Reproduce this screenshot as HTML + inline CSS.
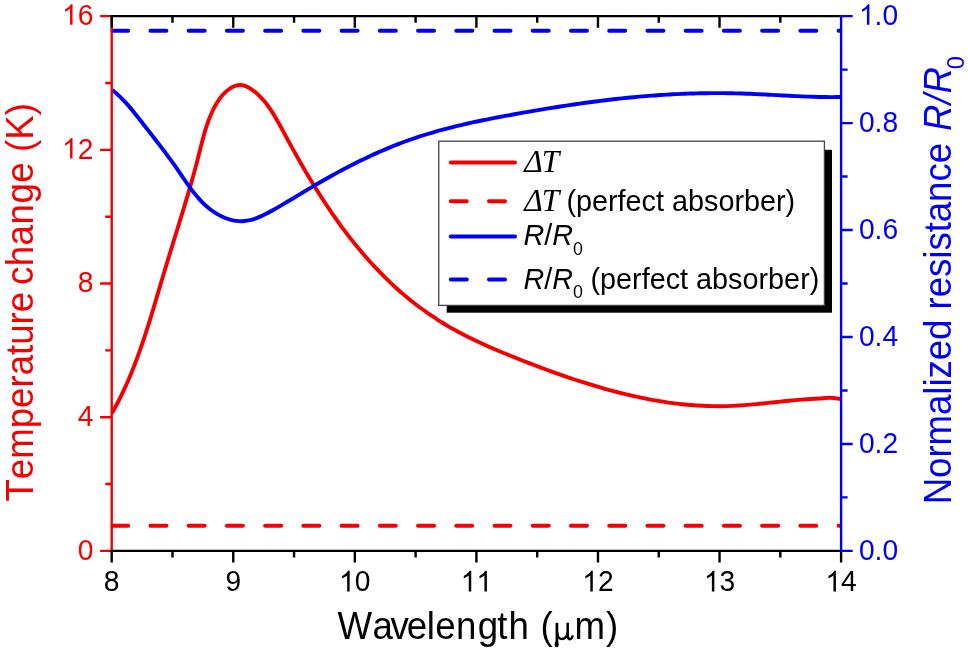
<!DOCTYPE html>
<html><head><meta charset="utf-8"><title>Chart</title>
<style>html,body{margin:0;padding:0;background:#fff;}svg{display:block;will-change:transform;}text{font-family:"Liberation Sans",sans-serif;font-kerning:none;}.ser{font-family:"Liberation Serif",serif;}</style></head><body>
<svg width="968" height="652" viewBox="0 0 968 652">
<rect width="968" height="652" fill="#fff"/>
<clipPath id="cp"><rect x="110.50" y="16.15" width="730.60" height="534.75"/></clipPath>
<g clip-path="url(#cp)" fill="none" stroke-linejoin="round">
<path d="M111.87,413.35 C112.36,412.46 113.85,409.81 114.82,408.03 C115.78,406.24 116.73,404.46 117.65,402.66 C118.58,400.87 119.49,399.07 120.38,397.27 C121.27,395.47 122.15,393.66 123.01,391.85 C123.86,390.03 124.71,388.21 125.53,386.39 C126.36,384.57 127.17,382.74 127.97,380.91 C128.77,379.07 129.55,377.24 130.32,375.39 C131.09,373.55 131.84,371.71 132.58,369.86 C133.33,368.01 134.06,366.15 134.77,364.29 C135.49,362.43 136.20,360.57 136.89,358.71 C137.59,356.84 138.27,354.97 138.95,353.10 C139.63,351.22 140.29,349.35 140.95,347.47 C141.60,345.59 142.25,343.71 142.89,341.82 C143.53,339.93 144.16,338.05 144.78,336.15 C145.40,334.26 146.02,332.37 146.63,330.47 C147.24,328.58 147.84,326.68 148.44,324.77 C149.04,322.87 149.63,320.97 150.22,319.06 C150.81,317.16 151.39,315.25 151.97,313.34 C152.55,311.43 153.13,309.52 153.70,307.61 C154.27,305.69 154.84,303.78 155.41,301.86 C155.98,299.95 156.55,298.03 157.12,296.11 C157.68,294.19 158.25,292.27 158.81,290.35 C159.38,288.43 159.94,286.51 160.51,284.59 C161.08,282.67 161.64,280.75 162.21,278.82 C162.78,276.90 163.35,274.98 163.93,273.05 C164.50,271.13 165.08,269.21 165.66,267.28 C166.23,265.36 166.82,263.43 167.40,261.51 C167.99,259.59 168.57,257.66 169.16,255.74 C169.75,253.82 170.34,251.89 170.94,249.97 C171.53,248.05 172.12,246.12 172.72,244.20 C173.31,242.28 173.90,240.35 174.50,238.43 C175.09,236.51 175.69,234.59 176.28,232.67 C176.88,230.74 177.47,228.82 178.06,226.90 C178.66,224.98 179.25,223.06 179.84,221.14 C180.43,219.22 181.02,217.30 181.61,215.38 C182.19,213.46 182.78,211.55 183.36,209.63 C183.94,207.71 184.52,205.79 185.10,203.88 C185.67,201.96 186.24,200.04 186.81,198.13 C187.38,196.21 187.95,194.30 188.51,192.39 C189.07,190.47 189.62,188.56 190.17,186.65 C190.73,184.74 191.27,182.83 191.81,180.92 C192.35,179.01 192.89,177.10 193.42,175.19 C193.95,173.28 194.47,171.38 194.99,169.47 C195.50,167.56 196.01,165.66 196.51,163.76 C197.02,161.85 197.51,159.95 198.00,158.05 C198.49,156.15 198.96,154.25 199.44,152.35 C199.91,150.45 200.38,148.55 200.86,146.65 C201.34,144.75 201.81,142.85 202.31,140.94 C202.81,139.04 203.32,137.13 203.86,135.21 C204.40,133.30 204.95,131.38 205.55,129.45 C206.15,127.53 206.77,125.59 207.45,123.65 C208.12,121.71 208.83,119.75 209.60,117.80 C210.38,115.85 211.19,113.88 212.08,111.95 C212.97,110.03 213.91,108.11 214.93,106.25 C215.95,104.40 217.03,102.57 218.21,100.83 C219.38,99.08 220.63,97.38 221.97,95.81 C223.31,94.23 224.76,92.70 226.26,91.37 C227.75,90.04 229.34,88.80 230.95,87.84 C232.57,86.88 234.25,86.07 235.93,85.61 C237.62,85.14 239.35,84.92 241.05,85.05 C242.76,85.18 244.49,85.70 246.17,86.37 C247.84,87.04 249.52,88.05 251.12,89.09 C252.72,90.13 254.28,91.36 255.77,92.60 C257.26,93.84 258.68,95.17 260.05,96.54 C261.42,97.91 262.72,99.36 263.99,100.85 C265.26,102.33 266.47,103.88 267.65,105.47 C268.83,107.05 269.96,108.68 271.07,110.35 C272.18,112.01 273.24,113.71 274.29,115.44 C275.34,117.16 276.36,118.92 277.37,120.69 C278.38,122.45 279.36,124.25 280.35,126.04 C281.33,127.84 282.29,129.65 283.26,131.45 C284.24,133.26 285.20,135.06 286.17,136.86 C287.14,138.66 288.12,140.46 289.09,142.25 C290.07,144.04 291.05,145.83 292.03,147.61 C293.01,149.39 294.00,151.17 294.99,152.95 C295.98,154.72 296.97,156.49 297.97,158.25 C298.96,160.01 299.96,161.77 300.97,163.52 C301.97,165.27 302.98,167.02 304.00,168.76 C305.01,170.50 306.03,172.24 307.05,173.97 C308.08,175.70 309.11,177.43 310.14,179.15 C311.18,180.86 312.21,182.58 313.26,184.29 C314.31,185.99 315.36,187.70 316.41,189.39 C317.47,191.09 318.53,192.78 319.60,194.46 C320.67,196.14 321.75,197.82 322.83,199.49 C323.92,201.16 325.01,202.83 326.11,204.48 C327.20,206.14 328.31,207.79 329.42,209.43 C330.53,211.08 331.65,212.72 332.78,214.35 C333.91,215.98 335.04,217.60 336.19,219.22 C337.33,220.83 338.48,222.44 339.64,224.04 C340.80,225.64 341.97,227.24 343.15,228.83 C344.33,230.41 345.52,231.99 346.72,233.56 C347.91,235.14 349.12,236.70 350.34,238.26 C351.55,239.81 352.78,241.36 354.01,242.90 C355.25,244.44 356.50,245.97 357.75,247.50 C359.01,249.02 360.28,250.54 361.55,252.04 C362.83,253.55 364.12,255.05 365.42,256.54 C366.72,258.03 368.03,259.51 369.36,260.99 C370.68,262.46 372.01,263.93 373.36,265.38 C374.71,266.84 376.06,268.28 377.44,269.72 C378.81,271.15 380.19,272.58 381.58,273.99 C382.98,275.41 384.38,276.81 385.80,278.21 C387.22,279.60 388.66,280.99 390.10,282.36 C391.55,283.73 393.01,285.09 394.48,286.44 C395.95,287.78 397.44,289.12 398.93,290.44 C400.43,291.77 401.94,293.08 403.47,294.38 C405.00,295.67 406.54,296.96 408.09,298.23 C409.64,299.50 411.21,300.76 412.79,302.00 C414.37,303.24 415.97,304.47 417.57,305.69 C419.18,306.90 420.79,308.10 422.42,309.29 C424.05,310.47 425.69,311.64 427.34,312.79 C428.99,313.95 430.65,315.08 432.32,316.21 C433.99,317.33 435.67,318.43 437.36,319.52 C439.05,320.61 440.74,321.68 442.45,322.73 C444.15,323.79 445.86,324.82 447.58,325.84 C449.30,326.86 451.03,327.86 452.76,328.85 C454.49,329.83 456.23,330.79 457.97,331.74 C459.72,332.68 461.46,333.61 463.22,334.52 C464.97,335.44 466.73,336.33 468.50,337.21 C470.26,338.09 472.03,338.96 473.81,339.81 C475.58,340.66 477.36,341.50 479.15,342.33 C480.93,343.16 482.72,343.97 484.52,344.78 C486.31,345.58 488.11,346.38 489.92,347.16 C491.72,347.95 493.53,348.73 495.34,349.50 C497.16,350.27 498.97,351.03 500.80,351.79 C502.62,352.55 504.44,353.30 506.28,354.05 C508.11,354.79 509.94,355.54 511.78,356.28 C513.62,357.02 515.46,357.76 517.31,358.49 C519.16,359.23 521.01,359.96 522.86,360.69 C524.72,361.42 526.58,362.15 528.44,362.87 C530.30,363.59 532.17,364.31 534.04,365.02 C535.91,365.73 537.78,366.44 539.66,367.15 C541.54,367.85 543.41,368.55 545.30,369.25 C547.18,369.94 549.07,370.63 550.96,371.31 C552.85,372.00 554.74,372.68 556.63,373.35 C558.53,374.02 560.43,374.69 562.33,375.35 C564.23,376.01 566.13,376.66 568.04,377.31 C569.95,377.96 571.86,378.60 573.77,379.23 C575.68,379.87 577.59,380.49 579.51,381.11 C581.43,381.73 583.35,382.34 585.27,382.95 C587.19,383.55 589.11,384.15 591.04,384.73 C592.96,385.32 594.89,385.90 596.82,386.47 C598.75,387.04 600.68,387.60 602.62,388.15 C604.55,388.70 606.49,389.25 608.42,389.78 C610.36,390.31 612.30,390.83 614.25,391.35 C616.19,391.86 618.13,392.36 620.08,392.85 C622.02,393.34 623.97,393.82 625.92,394.29 C627.87,394.76 629.82,395.22 631.78,395.66 C633.73,396.11 635.68,396.54 637.64,396.96 C639.60,397.39 641.56,397.80 643.52,398.19 C645.47,398.59 647.44,398.97 649.40,399.34 C651.36,399.72 653.33,400.07 655.29,400.42 C657.26,400.76 659.23,401.09 661.19,401.41 C663.16,401.72 665.13,402.03 667.11,402.31 C669.08,402.60 671.05,402.88 673.02,403.13 C675.00,403.39 676.97,403.63 678.95,403.86 C680.93,404.09 682.90,404.30 684.88,404.50 C686.86,404.69 688.84,404.87 690.82,405.03 C692.80,405.20 694.78,405.34 696.77,405.47 C698.75,405.60 700.73,405.71 702.72,405.81 C704.70,405.90 706.69,405.98 708.68,406.04 C710.66,406.10 712.65,406.14 714.64,406.17 C716.63,406.19 718.62,406.20 720.60,406.18 C722.59,406.17 724.58,406.13 726.58,406.08 C728.57,406.03 730.56,405.96 732.55,405.87 C734.54,405.78 736.53,405.67 738.53,405.55 C740.52,405.43 742.51,405.29 744.51,405.14 C746.50,404.99 748.50,404.82 750.49,404.65 C752.49,404.48 754.48,404.29 756.48,404.10 C758.47,403.91 760.47,403.71 762.46,403.51 C764.46,403.31 766.46,403.10 768.45,402.89 C770.45,402.68 772.45,402.47 774.44,402.26 C776.44,402.05 778.44,401.83 780.43,401.63 C782.43,401.42 784.42,401.21 786.42,401.01 C788.42,400.81 790.41,400.62 792.41,400.43 C794.41,400.25 796.40,400.07 798.40,399.90 C800.40,399.73 802.39,399.57 804.39,399.43 C806.38,399.29 807.85,399.20 810.37,399.04 C812.89,398.88 817.06,398.62 819.50,398.45 C821.94,398.28 823.33,398.11 825.00,398.00 C826.67,397.89 828.00,397.79 829.50,397.80 C831.00,397.81 832.58,397.90 834.00,398.05 C835.42,398.20 836.58,398.43 838.00,398.70 C839.42,398.97 841.75,399.53 842.50,399.70" stroke="#f40000" stroke-width="3.9"/>
<path d="M112.2,525.7 H845" stroke="#f40000" stroke-width="4" stroke-dasharray="16 22.23" stroke-linecap="round"/>
<path d="M112.07,89.90 C112.84,90.53 115.19,92.39 116.70,93.71 C118.20,95.03 119.65,96.41 121.08,97.81 C122.51,99.21 123.90,100.66 125.26,102.14 C126.63,103.61 127.96,105.12 129.28,106.64 C130.60,108.17 131.88,109.72 133.16,111.28 C134.44,112.84 135.69,114.42 136.95,115.99 C138.20,117.57 139.43,119.15 140.66,120.73 C141.90,122.30 143.13,123.88 144.35,125.44 C145.58,127.01 146.80,128.57 148.02,130.13 C149.24,131.69 150.46,133.24 151.67,134.80 C152.88,136.35 154.09,137.90 155.29,139.46 C156.50,141.02 157.70,142.57 158.90,144.13 C160.10,145.70 161.29,147.26 162.48,148.83 C163.67,150.41 164.85,151.98 166.03,153.57 C167.21,155.16 168.39,156.75 169.56,158.36 C170.73,159.97 171.90,161.58 173.06,163.22 C174.23,164.85 175.39,166.49 176.54,168.15 C177.69,169.81 178.84,171.49 179.99,173.17 C181.14,174.85 182.29,176.55 183.45,178.24 C184.61,179.93 185.77,181.62 186.95,183.30 C188.14,184.97 189.33,186.65 190.55,188.29 C191.78,189.93 193.02,191.56 194.29,193.16 C195.57,194.75 196.87,196.32 198.21,197.84 C199.55,199.36 200.93,200.85 202.35,202.29 C203.77,203.72 205.24,205.11 206.76,206.43 C208.28,207.76 209.84,209.03 211.47,210.23 C213.10,211.42 214.79,212.56 216.53,213.60 C218.26,214.65 220.05,215.62 221.86,216.48 C223.67,217.34 225.53,218.11 227.40,218.76 C229.26,219.40 231.15,219.94 233.04,220.33 C234.92,220.73 236.83,221.01 238.70,221.12 C240.58,221.24 242.46,221.20 244.31,221.03 C246.17,220.87 248.01,220.54 249.84,220.13 C251.66,219.71 253.48,219.16 255.29,218.54 C257.09,217.92 258.88,217.19 260.67,216.41 C262.45,215.63 264.23,214.76 266.00,213.86 C267.76,212.97 269.52,212.01 271.27,211.05 C273.03,210.08 274.77,209.09 276.51,208.09 C278.25,207.10 279.98,206.09 281.72,205.08 C283.45,204.08 285.17,203.06 286.90,202.04 C288.62,201.02 290.34,199.99 292.06,198.96 C293.78,197.93 295.50,196.90 297.22,195.86 C298.94,194.83 300.66,193.79 302.39,192.76 C304.11,191.73 305.83,190.69 307.56,189.66 C309.29,188.63 311.02,187.60 312.75,186.58 C314.49,185.56 316.23,184.54 317.97,183.52 C319.72,182.51 321.47,181.50 323.22,180.50 C324.98,179.49 326.74,178.50 328.50,177.51 C330.26,176.52 332.03,175.54 333.81,174.56 C335.58,173.58 337.36,172.62 339.15,171.65 C340.93,170.69 342.72,169.74 344.51,168.80 C346.30,167.85 348.10,166.92 349.90,165.99 C351.70,165.06 353.51,164.15 355.31,163.24 C357.12,162.33 358.94,161.43 360.75,160.54 C362.57,159.66 364.39,158.78 366.22,157.91 C368.04,157.05 369.87,156.19 371.71,155.35 C373.54,154.50 375.38,153.67 377.22,152.85 C379.06,152.03 380.90,151.22 382.75,150.43 C384.59,149.63 386.44,148.85 388.30,148.08 C390.15,147.31 392.01,146.55 393.87,145.81 C395.73,145.07 397.59,144.34 399.46,143.63 C401.32,142.91 403.19,142.22 405.06,141.53 C406.94,140.85 408.81,140.18 410.69,139.53 C412.57,138.87 414.45,138.23 416.33,137.60 C418.21,136.98 420.10,136.36 421.99,135.76 C423.88,135.16 425.77,134.58 427.66,134.00 C429.56,133.42 431.45,132.86 433.35,132.31 C435.25,131.76 437.16,131.22 439.06,130.69 C440.96,130.16 442.87,129.65 444.78,129.14 C446.69,128.63 448.60,128.13 450.52,127.65 C452.43,127.16 454.35,126.68 456.26,126.21 C458.18,125.75 460.10,125.29 462.03,124.84 C463.95,124.38 465.88,123.94 467.80,123.51 C469.73,123.07 471.66,122.65 473.59,122.22 C475.53,121.80 477.46,121.39 479.40,120.99 C481.33,120.58 483.27,120.18 485.21,119.79 C487.15,119.39 489.10,119.00 491.04,118.62 C492.98,118.24 494.93,117.86 496.88,117.49 C498.83,117.11 500.78,116.74 502.73,116.38 C504.68,116.01 506.64,115.65 508.59,115.30 C510.55,114.94 512.50,114.58 514.46,114.23 C516.42,113.88 518.38,113.53 520.34,113.18 C522.31,112.84 524.27,112.49 526.24,112.15 C528.20,111.81 530.17,111.47 532.14,111.13 C534.11,110.79 536.08,110.46 538.05,110.12 C540.02,109.79 541.99,109.46 543.97,109.14 C545.94,108.81 547.92,108.49 549.89,108.17 C551.87,107.85 553.85,107.53 555.83,107.22 C557.81,106.90 559.79,106.59 561.77,106.29 C563.75,105.98 565.74,105.68 567.72,105.38 C569.71,105.08 571.69,104.79 573.68,104.50 C575.67,104.20 577.65,103.92 579.64,103.64 C581.63,103.35 583.62,103.07 585.61,102.80 C587.60,102.53 589.59,102.26 591.59,101.99 C593.58,101.73 595.57,101.47 597.57,101.21 C599.56,100.96 601.56,100.71 603.55,100.46 C605.55,100.22 607.55,99.98 609.54,99.75 C611.54,99.51 613.54,99.28 615.54,99.06 C617.54,98.83 619.54,98.62 621.54,98.40 C623.54,98.19 625.54,97.98 627.54,97.78 C629.54,97.58 631.54,97.39 633.54,97.20 C635.55,97.01 637.55,96.83 639.55,96.65 C641.55,96.48 643.56,96.30 645.56,96.14 C647.56,95.98 649.57,95.82 651.57,95.67 C653.58,95.52 655.58,95.37 657.59,95.23 C659.59,95.09 661.60,94.96 663.60,94.84 C665.61,94.71 667.61,94.59 669.62,94.48 C671.62,94.37 673.63,94.26 675.63,94.16 C677.64,94.06 679.65,93.97 681.65,93.89 C683.66,93.80 685.66,93.72 687.67,93.65 C689.67,93.58 691.68,93.52 693.68,93.46 C695.69,93.40 697.69,93.35 699.70,93.31 C701.70,93.27 703.71,93.23 705.71,93.20 C707.72,93.17 709.72,93.15 711.72,93.14 C713.73,93.12 715.73,93.12 717.73,93.12 C719.74,93.12 721.74,93.13 723.74,93.14 C725.74,93.16 727.74,93.18 729.75,93.21 C731.75,93.25 733.75,93.28 735.75,93.33 C737.75,93.38 739.75,93.43 741.74,93.50 C743.74,93.56 745.74,93.63 747.74,93.70 C749.74,93.78 751.73,93.86 753.73,93.95 C755.72,94.04 757.72,94.13 759.71,94.23 C761.71,94.32 763.70,94.42 765.69,94.52 C767.68,94.63 769.68,94.73 771.67,94.84 C773.66,94.94 775.65,95.05 777.64,95.16 C779.62,95.26 781.61,95.37 783.60,95.48 C785.58,95.58 787.57,95.69 789.55,95.79 C791.54,95.89 793.52,95.99 795.50,96.08 C797.48,96.18 799.47,96.27 801.44,96.35 C803.42,96.44 805.40,96.52 807.38,96.59 C809.36,96.67 811.33,96.73 813.30,96.79 C815.28,96.85 817.25,96.91 819.22,96.95 C821.19,96.99 823.16,97.03 825.13,97.05 C827.10,97.07 829.07,97.09 831.03,97.09 C833.00,97.09 835.19,97.07 836.92,97.06 C838.66,97.04 840.70,96.99 841.45,96.98" stroke="#0000f8" stroke-width="3.9"/>
<path d="M112.2,30.8 H845" stroke="#0000f8" stroke-width="4" stroke-dasharray="16 22.23" stroke-linecap="round"/>
</g>
<g fill="none" stroke-width="2.40" stroke-linecap="butt">
<path d="M111.70,16.15 V550.90" stroke="#f40000"/>
<path d="M111.70,550.90 h-11.60 M111.70,484.06 h-6.50 M111.70,417.21 h-11.60 M111.70,350.37 h-6.50 M111.70,283.52 h-11.60 M111.70,216.68 h-6.50 M111.70,149.84 h-11.60 M111.70,82.99 h-6.50 M111.70,16.15 h-11.60 " stroke="#f40000"/>
<path d="M841.10,14.95 V552.10" stroke="#0000f8"/>
<path d="M841.10,550.90 h11.60 M841.10,497.42 h6.50 M841.10,443.95 h11.60 M841.10,390.48 h6.50 M841.10,337.00 h11.60 M841.10,283.52 h6.50 M841.10,230.05 h11.60 M841.10,176.57 h6.50 M841.10,123.10 h11.60 M841.10,69.62 h6.50 M841.10,16.15 h11.60 " stroke="#0000f8"/>
<path d="M110.50,16.15 H839.90" stroke="#000000"/>
<path d="M110.50,550.90 H839.90" stroke="#000000"/>
<path d="M111.70,16.15 v11.60 M111.70,550.90 v11.60 M172.48,16.15 v6.50 M172.48,550.90 v6.50 M233.27,16.15 v11.60 M233.27,550.90 v11.60 M294.05,16.15 v6.50 M294.05,550.90 v6.50 M354.83,16.15 v11.60 M354.83,550.90 v11.60 M415.62,16.15 v6.50 M415.62,550.90 v6.50 M476.40,16.15 v11.60 M476.40,550.90 v11.60 M537.18,16.15 v6.50 M537.18,550.90 v6.50 M597.97,16.15 v11.60 M597.97,550.90 v11.60 M658.75,16.15 v6.50 M658.75,550.90 v6.50 M719.53,16.15 v11.60 M719.53,550.90 v11.60 M780.32,16.15 v6.50 M780.32,550.90 v6.50 M841.10,552.10 v10.40 " stroke="#000000"/>
</g>
<text transform="translate(77.72,559.60) scale(1,1.04)" font-size="28.2" fill="#f40000" text-anchor="start">0</text>
<text transform="translate(77.72,425.91) scale(1,1.04)" font-size="28.2" fill="#f40000" text-anchor="start">4</text>
<text transform="translate(77.72,292.22) scale(1,1.04)" font-size="28.2" fill="#f40000" text-anchor="start">8</text>
<path transform="translate(62.03,158.54) scale(0.01377,-0.01396)" d="M763,0H583V1147Q518,1085 412.5,1023Q307,961 223,930V1104Q374,1175 487,1276Q600,1377 647,1472H763Z" fill="#f40000"/>
<text transform="translate(77.72,158.54) scale(1,1.04)" font-size="28.2" fill="#f40000" text-anchor="start">2</text>
<path transform="translate(62.03,24.85) scale(0.01377,-0.01396)" d="M763,0H583V1147Q518,1085 412.5,1023Q307,961 223,930V1104Q374,1175 487,1276Q600,1377 647,1472H763Z" fill="#f40000"/>
<text transform="translate(77.72,24.85) scale(1,1.04)" font-size="28.2" fill="#f40000" text-anchor="start">6</text>
<text transform="translate(858.90,559.60) scale(1,1.04)" font-size="28.2" fill="#0000f8" text-anchor="start">0</text>
<text transform="translate(874.58,559.60) scale(1,1.04)" font-size="28.2" fill="#0000f8" text-anchor="start">.</text>
<text transform="translate(882.42,559.60) scale(1,1.04)" font-size="28.2" fill="#0000f8" text-anchor="start">0</text>
<text transform="translate(858.90,452.65) scale(1,1.04)" font-size="28.2" fill="#0000f8" text-anchor="start">0</text>
<text transform="translate(874.58,452.65) scale(1,1.04)" font-size="28.2" fill="#0000f8" text-anchor="start">.</text>
<text transform="translate(882.42,452.65) scale(1,1.04)" font-size="28.2" fill="#0000f8" text-anchor="start">2</text>
<text transform="translate(858.90,345.70) scale(1,1.04)" font-size="28.2" fill="#0000f8" text-anchor="start">0</text>
<text transform="translate(874.58,345.70) scale(1,1.04)" font-size="28.2" fill="#0000f8" text-anchor="start">.</text>
<text transform="translate(882.42,345.70) scale(1,1.04)" font-size="28.2" fill="#0000f8" text-anchor="start">4</text>
<text transform="translate(858.90,238.75) scale(1,1.04)" font-size="28.2" fill="#0000f8" text-anchor="start">0</text>
<text transform="translate(874.58,238.75) scale(1,1.04)" font-size="28.2" fill="#0000f8" text-anchor="start">.</text>
<text transform="translate(882.42,238.75) scale(1,1.04)" font-size="28.2" fill="#0000f8" text-anchor="start">6</text>
<text transform="translate(858.90,131.80) scale(1,1.04)" font-size="28.2" fill="#0000f8" text-anchor="start">0</text>
<text transform="translate(874.58,131.80) scale(1,1.04)" font-size="28.2" fill="#0000f8" text-anchor="start">.</text>
<text transform="translate(882.42,131.80) scale(1,1.04)" font-size="28.2" fill="#0000f8" text-anchor="start">8</text>
<path transform="translate(858.90,24.85) scale(0.01377,-0.01396)" d="M763,0H583V1147Q518,1085 412.5,1023Q307,961 223,930V1104Q374,1175 487,1276Q600,1377 647,1472H763Z" fill="#0000f8"/>
<text transform="translate(874.58,24.85) scale(1,1.04)" font-size="28.2" fill="#0000f8" text-anchor="start">.</text>
<text transform="translate(882.42,24.85) scale(1,1.04)" font-size="28.2" fill="#0000f8" text-anchor="start">0</text>
<text transform="translate(103.86,591.40) scale(1,1.04)" font-size="28.2" fill="#000000" text-anchor="start">8</text>
<text transform="translate(225.42,591.40) scale(1,1.04)" font-size="28.2" fill="#000000" text-anchor="start">9</text>
<path transform="translate(339.15,591.40) scale(0.01377,-0.01396)" d="M763,0H583V1147Q518,1085 412.5,1023Q307,961 223,930V1104Q374,1175 487,1276Q600,1377 647,1472H763Z" fill="#000000"/>
<text transform="translate(354.83,591.40) scale(1,1.04)" font-size="28.2" fill="#000000" text-anchor="start">0</text>
<path transform="translate(460.72,591.40) scale(0.01377,-0.01396)" d="M763,0H583V1147Q518,1085 412.5,1023Q307,961 223,930V1104Q374,1175 487,1276Q600,1377 647,1472H763Z" fill="#000000"/>
<path transform="translate(476.40,591.40) scale(0.01377,-0.01396)" d="M763,0H583V1147Q518,1085 412.5,1023Q307,961 223,930V1104Q374,1175 487,1276Q600,1377 647,1472H763Z" fill="#000000"/>
<path transform="translate(582.28,591.40) scale(0.01377,-0.01396)" d="M763,0H583V1147Q518,1085 412.5,1023Q307,961 223,930V1104Q374,1175 487,1276Q600,1377 647,1472H763Z" fill="#000000"/>
<text transform="translate(597.97,591.40) scale(1,1.04)" font-size="28.2" fill="#000000" text-anchor="start">2</text>
<path transform="translate(703.85,591.40) scale(0.01377,-0.01396)" d="M763,0H583V1147Q518,1085 412.5,1023Q307,961 223,930V1104Q374,1175 487,1276Q600,1377 647,1472H763Z" fill="#000000"/>
<text transform="translate(719.53,591.40) scale(1,1.04)" font-size="28.2" fill="#000000" text-anchor="start">3</text>
<path transform="translate(825.42,591.40) scale(0.01377,-0.01396)" d="M763,0H583V1147Q518,1085 412.5,1023Q307,961 223,930V1104Q374,1175 487,1276Q600,1377 647,1472H763Z" fill="#000000"/>
<text transform="translate(841.10,591.40) scale(1,1.04)" font-size="28.2" fill="#000000" text-anchor="start">4</text>
<text transform="translate(337.50,639.00) scale(1,1.05)" font-size="36.67" fill="#000000" text-anchor="start" x="0 35.1 53.0 69.2 89.2 97.8 118.6 140.2 159.8 170.9">Wavelength</text>
<text transform="translate(540.50,639.00) scale(1,1.05)" font-size="36.67" fill="#000000" text-anchor="start">(</text>
<g fill="none" stroke="#000" stroke-linecap="butt"><path d="M556.9,622.8 V642" stroke-width="2.7"/><path d="M567.7,622.8 V635.2 C567.7,638.6 569.3,639.6 570.8,638.9 C571.8,638.4 572.4,637.2 572.7,635.4" stroke-width="2.5"/><path d="M557.2,631.5 C557.4,637.3 559,639.0 561.6,639.0 C564.6,639.0 566.9,636.8 567.6,632.8" stroke-width="2.3"/></g><ellipse cx="556.7" cy="644.3" rx="2.0" ry="3.0" fill="#000"/>
<text transform="translate(574.50,639.00) scale(1,1.05)" font-size="36.67" fill="#000000" text-anchor="start">m</text>
<text transform="translate(606.00,639.00) scale(1,1.05)" font-size="36.67" fill="#000000" text-anchor="start">)</text>
<text transform="translate(32.60,501.60) rotate(-90) scale(1,1.05)" font-size="36.67" fill="#f40000" text-anchor="start">Temperature</text>
<text transform="translate(32.60,285.10) rotate(-90) scale(1,1.05)" font-size="36.67" fill="#f40000" text-anchor="start" letter-spacing="0.5">change</text>
<text transform="translate(32.60,152.00) rotate(-90) scale(1,1.05)" font-size="36.67" fill="#f40000" text-anchor="start">(K)</text>
<text transform="translate(950.50,504.30) rotate(-90) scale(1,1.05)" font-size="36.67" fill="#0000f8" text-anchor="start" letter-spacing="-0.06">Normalized resistance</text>
<text transform="translate(950.50,131.10) rotate(-90) scale(1,1.05)" font-size="36.67" fill="#0000f8" text-anchor="start"><tspan font-style="italic" letter-spacing="0.5">R/R</tspan><tspan font-size="23.5" dy="13" dx="-2.8">0</tspan></text>
<rect x="446.70" y="149.80" width="385.30" height="162.90" fill="#000"/>
<rect x="438.75" y="141.20" width="385.65" height="164.20" fill="#fff" stroke="#444" stroke-width="1.3"/>
<g fill="none" stroke-width="4" stroke-linecap="round">
<path d="M450.8,162.4 H515" stroke="#f40000"/>
<path d="M450.8,201.3 H515" stroke="#f40000" stroke-dasharray="16 22.2"/>
<path d="M450.8,236.4 H515" stroke="#0000f8"/>
<path d="M450.8,279.5 H515" stroke="#0000f8" stroke-dasharray="16 22.2"/>
</g>
<text x="524.2" y="172.0" font-size="31.5" fill="#000"><tspan class="ser" font-style="italic">Δ<tspan dx="-1.0">T</tspan></tspan></text>
<text x="524.2" y="210.8" font-size="31.5" fill="#000"><tspan class="ser" font-style="italic">Δ<tspan dx="-1.0">T</tspan></tspan></text>
<text transform="translate(566.40,210.80) scale(1,1.05)" font-size="28.8" fill="#000000" text-anchor="start">(perfect absorber)</text>
<text transform="translate(523.50,245.40) scale(1,1.05)" font-size="28.8" fill="#000000" text-anchor="start"><tspan font-style="italic">R</tspan>/<tspan font-style="italic">R</tspan><tspan font-size="17.8" dy="8.9">0</tspan></text>
<text transform="translate(523.50,288.60) scale(1,1.05)" font-size="28.8" fill="#000000" text-anchor="start"><tspan font-style="italic">R</tspan>/<tspan font-style="italic">R</tspan><tspan font-size="17.8" dy="8.9">0</tspan><tspan dy="-8.9" dx="-0.5"> (perfect absorber)</tspan></text>
</svg></body></html>
